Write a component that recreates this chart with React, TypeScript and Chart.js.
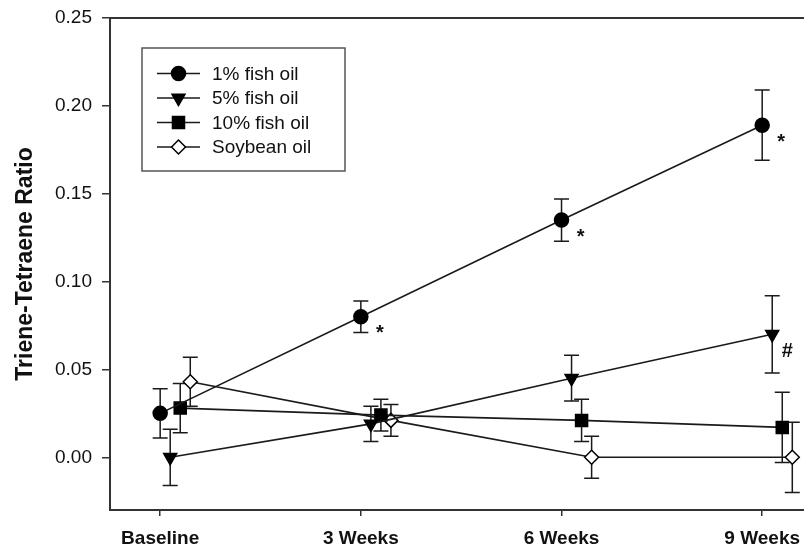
import React, { useEffect, useRef } from 'react';
import { Chart, registerables } from 'chart.js';
import { drawPoint } from 'chart.js/helpers';

Chart.register(...registerables);

// ---------- data ----------
const categories = ['Baseline', '3 Weeks', '6 Weeks', '9 Weeks'];
const weeks = [0, 3, 6, 9];
const seriesNames = ['1% fish oil', '5% fish oil', '10% fish oil', 'Soybean oil'];
const seriesOffsets = [0, 0.15, 0.3, 0.45];

const fishOil1 = [0.025, 0.08, 0.135, 0.189];
const fishOil1Err = [0.014, 0.009, 0.012, 0.02];
const fishOil5 = [0.0, 0.019, 0.045, 0.07];
const fishOil5Err = [0.016, 0.01, 0.013, 0.022];
const fishOil10 = [0.028, 0.024, 0.021, 0.017];
const fishOil10Err = [0.014, 0.009, 0.012, 0.02];
const soybeanOil = [0.043, 0.021, 0.0, 0.0];
const soybeanOilErr = [0.014, 0.009, 0.012, 0.02];

const yTicks = [0, 0.05, 0.1, 0.15, 0.2, 0.25];
const yMin = -0.03;
const yMax = 0.25;

// significance marks: series index, time index, symbol
const marks = [
  { series: 0, index: 1, text: '*' },
  { series: 0, index: 2, text: '*' },
  { series: 0, index: 3, text: '*' },
  { series: 1, index: 3, text: '#' },
];

const values = [fishOil1, fishOil5, fishOil10, soybeanOil];
const errors = [fishOil1Err, fishOil5Err, fishOil10Err, soybeanOilErr];

const FONT = "'Liberation Sans', Arial, Helvetica, sans-serif";
const INK = '#111111';
const AXIS = '#333333';

const styles = [
  { pointStyle: 'circle', radius: 7, rotation: 0, fill: '#000000' },
  { pointStyle: 'triangle', radius: 7.5, rotation: 180, fill: '#000000' },
  { pointStyle: 'rect', radius: 8.5, rotation: 0, fill: '#000000' },
  { pointStyle: 'rectRot', radius: 7, rotation: 0, fill: '#ffffff' },
];

const errorBarPlugin = {
  id: 'errorBars',
  beforeDatasetsDraw(chart: any) {
    const { ctx } = chart;
    const xs = chart.scales.x;
    const ys = chart.scales.y;
    ctx.save();
    ctx.strokeStyle = '#1a1a1a';
    ctx.lineWidth = 1.5;
    chart.data.datasets.forEach((ds: any, i: number) => {
      ds.data.forEach((p: any, j: number) => {
        const e = errors[i][j];
        const px = xs.getPixelForValue(p.x);
        const top = ys.getPixelForValue(p.y + e);
        const bot = ys.getPixelForValue(p.y - e);
        ctx.beginPath();
        ctx.moveTo(px, top);
        ctx.lineTo(px, bot);
        ctx.moveTo(px - 7.5, top);
        ctx.lineTo(px + 7.5, top);
        ctx.moveTo(px - 7.5, bot);
        ctx.lineTo(px + 7.5, bot);
        ctx.stroke();
      });
    });
    ctx.restore();
  },
};

const framePlugin = {
  id: 'frameExtras',
  afterDraw(chart: any) {
    const { ctx, chartArea } = chart;
    const xs = chart.scales.x;
    const ys = chart.scales.y;
    ctx.save();
    // top frame line
    ctx.strokeStyle = AXIS;
    ctx.lineWidth = 2;
    ctx.beginPath();
    ctx.moveTo(chartArea.left - 1, chartArea.top);
    ctx.lineTo(chartArea.right, chartArea.top);
    ctx.stroke();

    // significance marks
    ctx.fillStyle = INK;
    ctx.font = `bold 20px ${FONT}`;
    ctx.textAlign = 'center';
    ctx.textBaseline = 'middle';
    marks.forEach((m) => {
      const px = xs.getPixelForValue(weeks[m.index] + seriesOffsets[m.series]);
      const py = ys.getPixelForValue(values[m.series][m.index]);
      if (m.text === '*') ctx.fillText(m.text, px + 19, py + 17);
      else ctx.fillText(m.text, px + 15, py + 17);
    });

    // legend
    const bx = 142, by = 48, bw = 203, bh = 123;
    ctx.strokeStyle = '#555555';
    ctx.lineWidth = 1.5;
    ctx.strokeRect(bx, by, bw, bh);
    const rowY = [73.5, 98, 122.5, 147];
    ctx.font = `19px ${FONT}`;
    ctx.textAlign = 'left';
    ctx.textBaseline = 'middle';
    seriesNames.forEach((name, i) => {
      const y = rowY[i];
      ctx.strokeStyle = '#1a1a1a';
      ctx.lineWidth = 1.5;
      ctx.beginPath();
      ctx.moveTo(157, y);
      ctx.lineTo(200, y);
      ctx.stroke();
      const s = styles[i];
      ctx.fillStyle = s.fill;
      ctx.strokeStyle = '#000000';
      ctx.lineWidth = 1.5;
      drawPoint(ctx, { pointStyle: s.pointStyle as any, radius: s.radius, rotation: s.rotation, borderWidth: 1.5 }, 178.5, y);
      ctx.fillStyle = INK;
      ctx.fillText(name, 212, y + 1);
    });
    ctx.restore();
  },
};

export default function App() {
  const canvasRef = useRef<HTMLCanvasElement | null>(null);

  useEffect(() => {
    const canvas = canvasRef.current;
    if (!canvas) return;
    const datasets = values.map((vals, i) => ({
      label: seriesNames[i],
      data: vals.map((v, j) => ({ x: weeks[j] + seriesOffsets[i], y: v })),
      borderColor: '#1a1a1a',
      borderWidth: 1.6,
      backgroundColor: styles[i].fill,
      pointBackgroundColor: styles[i].fill,
      pointBorderColor: '#000000',
      pointBorderWidth: 1.5,
      pointStyle: styles[i].pointStyle as any,
      pointRadius: styles[i].radius,
      pointRotation: styles[i].rotation,
      pointHoverRadius: styles[i].radius,
      tension: 0,
      fill: false,
      clip: false as any,
    }));

    const chart = new Chart(canvas, {
      type: 'line',
      data: { datasets },
      options: {
        animation: false,
        responsive: false,
        maintainAspectRatio: false,
        events: [],
        layout: { autoPadding: false, padding: { top: 18, right: 0, left: 0, bottom: 0 } } as any,
        plugins: {
          legend: { display: false },
          tooltip: { enabled: false },
        },
        scales: {
          x: {
            type: 'linear',
            min: -0.75,
            max: 9.625,
            afterBuildTicks: (scale: any) => {
              scale.ticks = weeks.map((w) => ({ value: w }));
            },
            afterFit: (scale: any) => {
              scale.height = 42;
              scale.paddingLeft = 0;
              scale.paddingRight = 0;
            },
            ticks: {
              autoSkip: false,
              maxRotation: 0,
              padding: 11,
              color: INK,
              font: { family: FONT, size: 19, weight: 'bold' },
              callback: (v: any) => {
                const idx = weeks.indexOf(Number(v));
                return idx >= 0 ? categories[idx] : '';
              },
            },
            grid: {
              drawOnChartArea: false,
              drawTicks: true,
              tickLength: 6,
              color: AXIS,
              lineWidth: 1.5,
            },
            border: { display: true, color: AXIS, width: 2 },
          },
          y: {
            type: 'linear',
            min: yMin,
            max: yMax,
            afterBuildTicks: (scale: any) => {
              scale.ticks = yTicks.map((t) => ({ value: t }));
            },
            afterFit: (scale: any) => {
              scale.width = 110;
              scale.paddingTop = 0;
              scale.paddingBottom = 0;
            },
            ticks: {
              padding: 10,
              color: INK,
              font: { family: FONT, size: 19 },
              callback: (v: any) => Number(v).toFixed(2),
            },
            grid: {
              drawOnChartArea: false,
              drawTicks: true,
              tickLength: 8,
              color: AXIS,
              lineWidth: 1.5,
            },
            border: { display: true, color: AXIS, width: 2 },
            title: {
              display: true,
              text: 'Triene-Tetraene Ratio',
              color: INK,
              font: { family: FONT, size: 23, weight: 'bold' },
              padding: { top: 12, bottom: 0 },
            },
          },
        },
      },
      plugins: [errorBarPlugin, framePlugin],
    });

    return () => {
      chart.destroy();
    };
  }, []);

  return (
    <div style={{ position: 'fixed', left: 0, top: 0, width: 804, height: 552, background: '#ffffff' }}>
      <canvas ref={canvasRef} width={804} height={552} style={{ display: 'block', width: 804, height: 552 }} />
    </div>
  );
}
